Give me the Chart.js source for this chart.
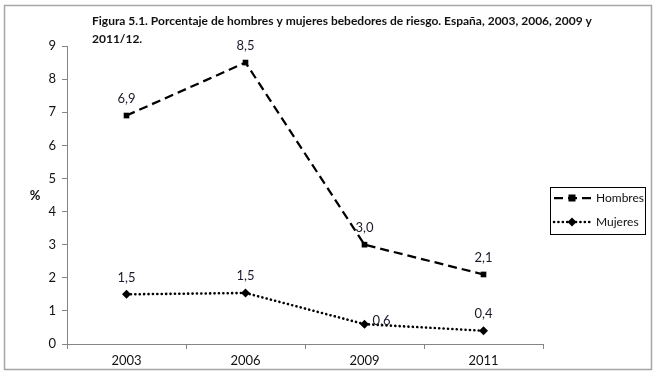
<!DOCTYPE html>
<html>
<head>
<meta charset="utf-8">
<script src="https://cdn.jsdelivr.net/npm/chart.js@4.4.1/dist/chart.umd.min.js"></script>
<style>
  html, body { margin: 0; padding: 0; background: #fff; }
  #wrap { width: 663px; height: 377px; position: relative; }
</style>
</head>
<body>
<div id="wrap"><canvas id="grafico"></canvas></div>
<script>
// datos
const anios = ['2003', '2006', '2009', '2011'];
const hombres = [6.9, 8.5, 3.0, 2.1];
const mujeres = [1.5, 1.54, 0.6, 0.4];
const ticksY = [0, 1, 2, 3, 4, 5, 6, 7, 8, 9];

const fuente = 'Lato, "Open Sans", sans-serif';
const tituloLineas = [
    'Figura 5.1. Porcentaje de hombres y mujeres bebedores de riesgo. España, 2003, 2006, 2009 y',
    '2011/12.'
];

function fmt(v) {
    return v.toFixed(1).replace('.', ',');
}

// marco, titulo, "%", etiquetas de datos y leyenda
const extras = {
    id: 'extras',
    afterDraw(chart) {
        const ctx = chart.ctx;
        ctx.save();

        ctx.strokeStyle = '#a6a6a6';
        ctx.lineWidth = 1.5;
        ctx.strokeRect(4.5, 5.5, 647, 364);

        ctx.fillStyle = '#111';
        ctx.font = 'bold 12px ' + fuente;
        ctx.textAlign = 'left';
        ctx.textBaseline = 'middle';
        ctx.fillText(tituloLineas[0], 92, 21);
        ctx.fillText(tituloLineas[1], 92, 39);

        ctx.font = 'bold 13px ' + fuente;
        ctx.textAlign = 'center';
        ctx.fillText('%', 35, 196);

        // etiquetas de valores
        ctx.font = '13px ' + fuente;
        ctx.fillStyle = '#1a1a2a';
        chart.data.datasets.forEach((ds, i) => {
            const meta = chart.getDatasetMeta(i);
            meta.data.forEach((pt, j) => {
                const txt = fmt(ds.data[j]);
                if (i === 1 && j === 2) {
                    ctx.textAlign = 'left';
                    ctx.fillText(txt, pt.x + 8, pt.y - 3);
                } else {
                    ctx.textAlign = 'center';
                    ctx.fillText(txt, pt.x, pt.y - 17);
                }
            });
        });

        // leyenda
        const lx = 550, ly = 187, lw = 95, lh = 47;
        ctx.strokeStyle = '#000';
        ctx.lineWidth = 1;
        ctx.strokeRect(lx + 0.5, ly + 0.5, lw, lh);
        chart.data.datasets.forEach((ds, i) => {
            const y = ly + 11 + i * 24;
            ctx.strokeStyle = '#000';
            ctx.lineWidth = ds.borderWidth;
            ctx.setLineDash(ds.borderDash);
            ctx.lineCap = ds.borderCapStyle;
            ctx.beginPath();
            ctx.moveTo(lx + 4, y);
            ctx.lineTo(lx + 42, y);
            ctx.stroke();
            ctx.setLineDash([]);
            ctx.fillStyle = '#000';
            const cx = lx + 22;
            if (ds.pointStyle === 'rect') {
                ctx.fillRect(cx - 3.5, y - 3.5, 7, 7);
            } else {
                ctx.beginPath();
                ctx.moveTo(cx, y - 4.5);
                ctx.lineTo(cx + 4.5, y);
                ctx.lineTo(cx, y + 4.5);
                ctx.lineTo(cx - 4.5, y);
                ctx.closePath();
                ctx.fill();
            }
            ctx.fillStyle = '#111';
            ctx.font = '12px ' + fuente;
            ctx.textAlign = 'left';
            ctx.fillText(ds.label, lx + 46, y);
        });

        ctx.restore();
    }
};

new Chart(document.getElementById('grafico'), {
    type: 'line',
    data: {
        labels: anios,
        datasets: [{
            label: 'Hombres',
            data: hombres,
            borderColor: '#000',
            backgroundColor: '#000',
            borderWidth: 2.25,
            borderDash: [9, 5],
            borderCapStyle: 'butt',
            pointStyle: 'rect',
            pointRadius: 4,
            pointBorderWidth: 0,
            tension: 0,
            fill: false
        }, {
            label: 'Mujeres',
            data: mujeres,
            borderColor: '#000',
            backgroundColor: '#000',
            borderWidth: 2.6,
            borderDash: [0.1, 4.3],
            borderCapStyle: 'round',
            pointStyle: 'rectRot',
            pointRadius: 4.5,
            pointBorderWidth: 0,
            tension: 0,
            fill: false
        }]
    },
    options: {
        responsive: true,
        maintainAspectRatio: false,
        animation: false,
        layout: {
            padding: { left: 0, right: 120, top: 46, bottom: 0 }
        },
        plugins: {
            legend: { display: false },
            title: { display: false },
            tooltip: { enabled: false }
        },
        scales: {
            x: {
                type: 'category',
                offset: true,
                grid: {
                    offset: true,
                    drawOnChartArea: false,
                    color: '#868686',
                    tickLength: 5
                },
                border: { color: '#868686', width: 1 },
                ticks: {
                    color: '#111',
                    font: { family: fuente, size: 13 },
                    padding: 4
                },
                afterFit(scale) { scale.height = 33; }
            },
            y: {
                min: 0,
                max: 9,
                afterBuildTicks(scale) {
                    scale.ticks = ticksY.map(v => ({ value: v }));
                },
                grid: {
                    drawOnChartArea: false,
                    color: '#868686',
                    tickLength: 5
                },
                border: { color: '#868686', width: 1 },
                ticks: {
                    color: '#111',
                    font: { family: fuente, size: 13 },
                    padding: 6
                },
                afterFit(scale) { scale.width = 67; }
            }
        }
    },
    plugins: [extras]
});
</script>
</body>
</html>
